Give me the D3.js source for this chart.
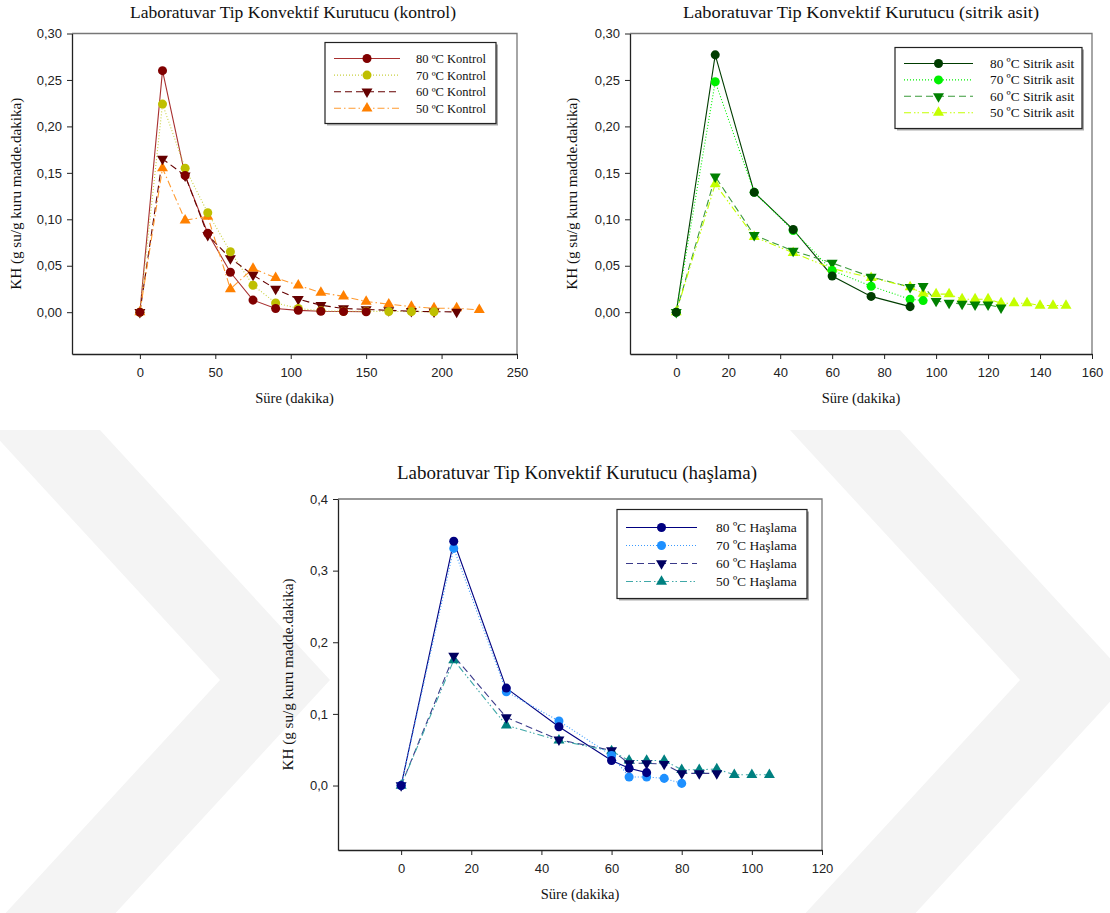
<!DOCTYPE html>
<html>
<head>
<meta charset="utf-8">
<script src="https://cdn.jsdelivr.net/npm/d3@7"></script>
<style>
  body { margin: 0; background: #fff; }
  svg { display: block; }
</style>
</head>
<body>
<svg class="vis" width="1110" height="913"></svg>
<script>
// drying rate curves, three panels

// --- kontrol ---
var tKontrol = [0, 15, 30, 45, 60, 75, 90, 105, 120, 135, 150, 165, 180, 195, 210, 225];
var kontrol80 = [0, 0.260, 0.147, 0.085, 0.043, 0.013, 0.004, 0.002, 0.001, 0.0008, 0.0005];
var kontrol70 = [0, 0.224, 0.155, 0.107, 0.065, 0.029, 0.010, 0.004, 0.0015, 0.001, 0.001, 0.0008, 0.0006, 0.0005];
var kontrol60 = [0, 0.165, 0.147, 0.083, 0.058, 0.040, 0.025, 0.014, 0.0075, 0.004, 0.003, 0.002, 0.001, 0.0005, 0.0003];
var kontrol50 = [0, 0.155, 0.099, 0.103, 0.025, 0.047, 0.037, 0.029, 0.021, 0.017, 0.0115, 0.0086, 0.006, 0.0043, 0.0043, 0.0025];

// --- sitrik asit ---
var tSitrik = [0, 15, 30, 45, 60, 75, 90, 95, 100, 105, 110, 115, 120, 125, 130, 135, 140, 145, 150];
var sitrik80 = [0, 0.277, 0.129, 0.089, 0.039, 0.017, 0.006];
var sitrik70 = [0, 0.248, 0.129, 0.088, 0.045, 0.028, 0.014, 0.0125];
var sitrik60 = [0, 0.146, 0.083, 0.066, 0.053, 0.038, 0.027, 0.028, 0.012, 0.010, 0.009, 0.008, 0.008, 0.005];
var sitrik50 = [0, 0.138, 0.081, 0.064, 0.047, 0.037, 0.027, 0.020, 0.0195, 0.0195, 0.014, 0.014, 0.014, 0.0097, 0.0097, 0.0097, 0.0072, 0.0072, 0.0072];

// --- haşlama ---
var tHaslama = [0, 15, 30, 45, 60, 65, 70, 75, 80, 85, 90, 95, 100, 105];
var haslama80 = [0, 0.341, 0.136, 0.082, 0.035, 0.024, 0.018];
var haslama70 = [0, 0.331, 0.131, 0.090, 0.042, 0.012, 0.012, 0.010, 0.003];
var haslama60 = [0, 0.181, 0.095, 0.064, 0.049, 0.031, 0.031, 0.030, 0.017, 0.017, 0.017];
var haslama50 = [0, 0.175, 0.084, 0.063, 0.048, 0.035, 0.035, 0.035, 0.022, 0.022, 0.023, 0.015, 0.015, 0.015];

var xTicks1 = [0, 50, 100, 150, 200, 250];
var xTicks2 = [0, 20, 40, 60, 80, 100, 120, 140, 160];
var xTicks3 = [0, 20, 40, 60, 80, 100, 120];
var yTicks12 = [0, 0.05, 0.10, 0.15, 0.20, 0.25, 0.30];
var yTicks3 = [0, 0.1, 0.2, 0.3, 0.4];

var svg = d3.select(".vis");

// faint watermark chevrons in the background
function chevron(x0, y0) {
    return [[x0, y0], [x0 + 110, y0], [x0 + 340, y0 + 250], [x0 + 110, y0 + 500], [x0, y0 + 500], [x0 + 230, y0 + 250]];
}
svg.selectAll(".wm")
    .data([chevron(-10, 430), chevron(790, 430)])
    .join("polygon")
    .attr("class", "wm")
    .attr("points", function (d) { return d.map(function (p) { return p.join(","); }).join(" "); })
    .attr("fill", "#f4f4f4");

var serif = "'Liberation Serif', 'Times New Roman', serif";
var sans = "'Liberation Sans', Arial, sans-serif";

var circle = d3.symbol().type(d3.symbolCircle).size(64);
var triangle = d3.symbol().type(d3.symbolTriangle).size(52);

function drawChart(cfg) {
    var g = svg.append("g");
    var x = d3.scaleLinear().domain(cfg.xDomain).range([cfg.left, cfg.right]);
    var y = d3.scaleLinear().domain(cfg.yDomain).range([cfg.bottom, cfg.top]);

    // top and right of the frame
    g.append("path")
        .attr("d", "M" + cfg.left + "," + cfg.top + "H" + cfg.right + "V" + cfg.bottom)
        .attr("fill", "none")
        .attr("stroke", "#777")
        .attr("stroke-width", 1.3);

    var fmt = d3.format(cfg.yFormat);
    var yAxis = g.append("g")
        .attr("transform", "translate(" + cfg.left + ",0)")
        .call(d3.axisLeft(y).tickValues(cfg.yTicks).tickSize(5).tickSizeOuter(0).tickPadding(5)
            .tickFormat(function (d) { return fmt(d).replace(".", ","); }));
    var xAxis = g.append("g")
        .attr("transform", "translate(0," + cfg.bottom + ")")
        .call(d3.axisBottom(x).tickValues(cfg.xTicks).tickSize(5).tickSizeOuter(0).tickPadding(9));
    [xAxis, yAxis].forEach(function (a) {
        a.select(".domain").attr("stroke", "#222").attr("stroke-width", 1.3);
        a.selectAll("line").attr("stroke", "#222");
        a.selectAll("text").attr("font-family", sans).attr("font-size", "13px").attr("fill", "#222");
    });

    g.append("text")
        .attr("x", cfg.titleX)
        .attr("y", cfg.titleY)
        .attr("text-anchor", "middle")
        .attr("font-family", serif)
        .attr("font-size", cfg.titleSize + "px")
        .attr("textLength", cfg.titleLen)
        .attr("lengthAdjust", "spacingAndGlyphs")
        .attr("fill", "#111")
        .text(cfg.title);
    g.append("text")
        .attr("x", (cfg.left + cfg.right) / 2)
        .attr("y", cfg.bottom + 49)
        .attr("text-anchor", "middle")
        .attr("font-family", serif)
        .attr("font-size", "14.5px")
        .attr("fill", "#111")
        .text("Süre (dakika)");
    g.append("text")
        .attr("transform", "translate(" + cfg.yLabelX + "," + ((cfg.top + cfg.bottom) / 2) + ") rotate(-90)")
        .attr("text-anchor", "middle")
        .attr("font-family", serif)
        .attr("font-size", "14.5px")
        .attr("textLength", 192)
        .attr("lengthAdjust", "spacingAndGlyphs")
        .attr("fill", "#111")
        .text("KH (g su/g kuru madde.dakika)");

    var line = d3.line()
        .x(function (d) { return x(d[0]); })
        .y(function (d) { return y(d[1]); });

    // lines first, markers above
    cfg.series.forEach(function (s) {
        var pts = s.values.map(function (v, i) { return [cfg.times[i], v]; });
        g.append("path")
            .datum(pts)
            .attr("d", line)
            .attr("fill", "none")
            .attr("stroke", s.lineColor)
            .attr("stroke-width", 1.1)
            .attr("stroke-dasharray", s.dash);
    });
    cfg.series.slice().reverse().forEach(function (s) {
        var pts = s.values.map(function (v, i) { return [cfg.times[i], v]; });
        g.selectAll(null)
            .data(pts)
            .join("path")
            .attr("d", s.shape === "circle" ? circle : triangle)
            .attr("transform", function (d) {
                return "translate(" + x(d[0]) + "," + y(d[1]) + ")" + (s.shape === "down" ? " rotate(180)" : "");
            })
            .attr("fill", s.color);
    });

    // legend
    var lg = cfg.legend;
    g.append("rect")
        .attr("x", lg.x + 2).attr("y", lg.y + 2)
        .attr("width", lg.w).attr("height", lg.h)
        .attr("fill", "#aaa");
    g.append("rect")
        .attr("x", lg.x).attr("y", lg.y)
        .attr("width", lg.w).attr("height", lg.h)
        .attr("fill", "#fff")
        .attr("stroke", "#222")
        .attr("stroke-width", 1.2);
    cfg.series.forEach(function (s, i) {
        var ry = lg.y + lg.first + i * lg.step;
        g.append("line")
            .attr("x1", lg.x + 9).attr("x2", lg.x + 9 + lg.lineW)
            .attr("y1", ry).attr("y2", ry)
            .attr("stroke", s.lineColor)
            .attr("stroke-width", 1.1)
            .attr("stroke-dasharray", s.dash);
        g.append("path")
            .attr("d", s.shape === "circle" ? circle : triangle)
            .attr("transform", "translate(" + (lg.x + 9 + lg.lineW / 2) + "," + ry + ")" + (s.shape === "down" ? " rotate(180)" : ""))
            .attr("fill", s.color);
        g.append("text")
            .attr("x", lg.x + lg.textX)
            .attr("y", ry + 4.5)
            .attr("font-family", serif)
            .attr("font-size", lg.font + "px")
            .attr("fill", "#111")
            .text(s.label);
    });
}

drawChart({
    title: "Laboratuvar Tip Konvektif Kurutucu (kontrol)",
    titleX: 293, titleY: 18, titleSize: 17, titleLen: 326,
    yLabelX: 21,
    left: 72, right: 517, top: 33.5, bottom: 354,
    xDomain: [-45, 250], yDomain: [-0.045, 0.30],
    xTicks: xTicks1, yTicks: yTicks12, yFormat: ".2f",
    times: tKontrol,
    legend: { x: 325, y: 42.5, w: 171, h: 81, first: 16, step: 16.6, lineW: 66, textX: 91, font: 12.5 },
    series: [
        { label: "80 ºC Kontrol", values: kontrol80, color: "#800000", lineColor: "#a83030", dash: null, shape: "circle" },
        { label: "70 ºC Kontrol", values: kontrol70, color: "#bfbf00", lineColor: "#c8d040", dash: "1,2", shape: "circle" },
        { label: "60 ºC Kontrol", values: kontrol60, color: "#650000", lineColor: "#650000", dash: "7,4", shape: "down" },
        { label: "50 ºC Kontrol", values: kontrol50, color: "#ff8000", lineColor: "#ff9a30", dash: "7,3,1.5,3", shape: "up" }
    ]
});

drawChart({
    title: "Laboratuvar Tip Konvektif Kurutucu (sitrik asit)",
    titleX: 861, titleY: 17.5, titleSize: 17, titleLen: 356,
    yLabelX: 577,
    left: 630, right: 1092, top: 33.5, bottom: 354,
    xDomain: [-17.8, 160], yDomain: [-0.045, 0.30],
    xTicks: xTicks2, yTicks: yTicks12, yFormat: ".2f",
    times: tSitrik,
    legend: { x: 895, y: 47.5, w: 187, h: 81, first: 16, step: 16.4, lineW: 69, textX: 95, font: 13.3 },
    series: [
        { label: "80 ºC Sitrik asit", values: sitrik80, color: "#003d00", lineColor: "#003d00", dash: null, shape: "circle" },
        { label: "70 ºC Sitrik asit", values: sitrik70, color: "#00f000", lineColor: "#00f000", dash: "1,2", shape: "circle" },
        { label: "60 ºC Sitrik asit", values: sitrik60, color: "#008000", lineColor: "#3a9a3a", dash: "7,4", shape: "down" },
        { label: "50 ºC Sitrik asit", values: sitrik50, color: "#c4ff00", lineColor: "#c4ff00", dash: "7,3,1.5,2,1.5,3", shape: "up" }
    ]
});

drawChart({
    title: "Laboratuvar Tip Konvektif Kurutucu (haşlama)",
    titleX: 577, titleY: 479, titleSize: 18.5, titleLen: 360,
    yLabelX: 293,
    left: 338, right: 822, top: 499, bottom: 850,
    xDomain: [-18, 120], yDomain: [-0.09, 0.4],
    xTicks: xTicks3, yTicks: yTicks3, yFormat: ".1f",
    times: tHaslama,
    legend: { x: 617, y: 509.5, w: 190, h: 89, first: 18, step: 18, lineW: 71, textX: 99, font: 13.5 },
    series: [
        { label: "80 ºC Haşlama", values: haslama80, color: "#000080", lineColor: "#000080", dash: null, shape: "circle" },
        { label: "70 ºC Haşlama", values: haslama70, color: "#1e90ff", lineColor: "#3a9aff", dash: "1,2", shape: "circle" },
        { label: "60 ºC Haşlama", values: haslama60, color: "#000060", lineColor: "#3a3a8a", dash: "7,4", shape: "down" },
        { label: "50 ºC Haşlama", values: haslama50, color: "#008080", lineColor: "#40a8a8", dash: "7,3,1.5,2,1.5,3", shape: "up" }
    ]
});
</script>
</body>
</html>
